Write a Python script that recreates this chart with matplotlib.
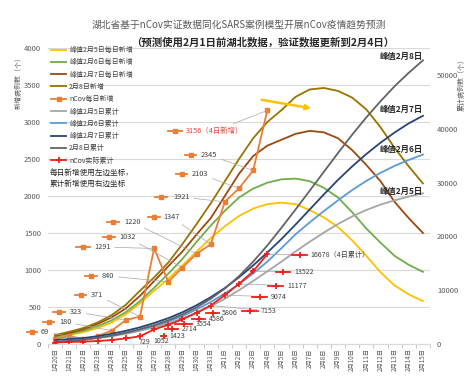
import matplotlib
matplotlib.use("Agg")
import matplotlib.pyplot as plt
from matplotlib.lines import Line2D

plt.rcParams['font.family'] = ['Noto Sans CJK SC', 'DejaVu Sans']

# x categories
dates = ["1月20日", "1月21日", "1月22日", "1月23日", "1月24日", "1月25日", "1月26日",
         "1月27日", "1月28日", "1月29日", "1月30日", "1月31日", "2月1日", "2月2日",
         "2月3日", "2月4日", "2月5日", "2月6日", "2月7日", "2月8日", "2月9日",
         "2月10日", "2月11日", "2月12日", "2月13日", "2月14日", "2月15日"]

# actual Hubei data (1/20 - 2/4)
daily_actual = [72, 105, 69, 105, 180, 323, 371, 1291, 840, 1032, 1220, 1347, 1921, 2103, 2345, 3156]
cum_actual = [270, 375, 444, 549, 729, 1052, 1423, 2714, 3554, 4586, 5806, 7153, 9074, 11177, 13522, 16678]

# model daily new (left axis)
daily_peak5 = [90, 120, 160, 215, 290, 400, 550, 720, 880, 1060, 1250, 1430, 1590, 1730, 1830, 1890,
               1910, 1890, 1810, 1710, 1580, 1400, 1190, 970, 790, 670, 580]
daily_peak6 = [100, 135, 180, 240, 320, 430, 580, 760, 950, 1150, 1380, 1600, 1800, 1980, 2100, 2180,
               2225, 2235, 2200, 2110, 1980, 1780, 1560, 1370, 1190, 1070, 975]
daily_peak7 = [110, 150, 200, 270, 360, 480, 650, 850, 1050, 1250, 1480, 1700, 2000, 2300, 2540, 2680,
               2760, 2840, 2880, 2860, 2780, 2620, 2420, 2200, 1920, 1700, 1500]
daily_peak8 = [120, 165, 216, 290, 390, 530, 720, 900, 1100, 1350, 1620, 1900, 2200, 2500, 2780, 3000,
               3160, 3340, 3440, 3460, 3420, 3330, 3170, 2930, 2650, 2400, 2170]

# model cumulative (right axis)
cum_peak5 = [350, 550, 800, 1100, 1450, 1900, 2450, 3100, 3850, 4750, 5800, 7000, 8400, 10000, 11700,
             13500, 15300, 17200, 19000, 20700, 22300, 23700, 24900, 25900, 26700, 27400, 28000]
cum_peak6 = [350, 550, 800, 1150, 1550, 2050, 2650, 3350, 4200, 5200, 6400, 7800, 9400, 11100, 13100,
             15300, 17800, 20400, 22600, 24700, 26700, 28600, 30300, 31800, 33100, 34200, 35200]
cum_peak7 = [750, 900, 1100, 1450, 1900, 2450, 3100, 3900, 4800, 5900, 7200, 8700, 10400, 12400, 14600,
             17000, 19500, 22200, 25000, 27800, 30500, 33000, 35300, 37400, 39300, 41000, 42400]
cum_peak8 = [350, 550, 800, 1150, 1550, 2100, 2750, 3500, 4400, 5500, 6800, 8400, 10300, 12600, 15300,
             18300, 21600, 25000, 28500, 32000, 35500, 38900, 42100, 45100, 47900, 50400, 52700]

W, H = 476, 386


def fx(x):
    return x / W


def fy(y):
    return 1 - y / H


fig = plt.figure(figsize=(W / 100, H / 100), dpi=100)
ax = fig.add_axes([fx(48), fy(344), fx(430) - fx(48), fy(48) - fy(344)])
ax2 = ax.twinx()

x = list(range(len(dates)))
xa = list(range(len(daily_actual)))

c_y, c_g, c_b, c_o = "#FFC000", "#70AD47", "#9E480E", "#997300"
c_daily = "#ED7D31"
c_gr, c_lb, c_nv, c_dg = "#A5A5A5", "#5B9BD5", "#264478", "#636363"
c_red = "#F0201A"
lw = 1.3

l1, = ax.plot(x, daily_peak5, color=c_y, lw=lw, label="峰值2月5日每日新增")
l2, = ax.plot(x, daily_peak6, color=c_g, lw=lw, label="峰值2月6日每日新增")
l3, = ax.plot(x, daily_peak7, color=c_b, lw=lw, label="峰值2月7日每日新增")
l4, = ax.plot(x, daily_peak8, color=c_o, lw=lw, label="2月8日新增")
l5, = ax.plot(xa, daily_actual, color=c_daily, lw=lw, marker="s", ms=2.6, label="nCov每日新增")

l6, = ax2.plot(x, cum_peak5, color=c_gr, lw=lw, label="峰值2月5日累计")
l7, = ax2.plot(x, cum_peak6, color=c_lb, lw=lw, label="峰值2月6日累计")
l8, = ax2.plot(x, cum_peak7, color=c_nv, lw=lw, label="峰值2月7日累计")
l9, = ax2.plot(x, cum_peak8, color=c_dg, lw=lw, label="2月8日累计")
l10, = ax2.plot(xa, cum_actual, color=c_red, lw=lw, marker="+", ms=4.5, mew=1.3, label="nCov实际累计")

ax.set_xlim(-0.5, len(dates) - 0.5)
ax.set_ylim(0, 4000)
ax.set_yticks(range(0, 4001, 500))
ax2.set_ylim(0, 55000)
ax2.set_yticks(range(0, 50001, 10000))
ax.set_xticks(x)
ax.set_xticklabels(dates, rotation=90, fontsize=4.5, color="#595959")
ax.set_xticks([i - 0.5 for i in range(len(dates) + 1)], minor=True)
ax.tick_params(axis="x", which="major", length=0, pad=3)
ax.tick_params(axis="x", which="minor", length=3, color="#BFBFBF")
ax.tick_params(axis="y", length=0, labelsize=5.5, labelcolor="#595959", pad=5)
ax2.tick_params(axis="y", length=0, labelsize=5.5, labelcolor="#595959", pad=5)
ax.grid(axis="y", color="#D9D9D9", lw=0.8)
ax.set_axisbelow(True)
for a in (ax, ax2):
    for s in ("left", "right", "top"):
        a.spines[s].set_visible(False)
    a.spines["bottom"].set_color("#D9D9D9")

# titles
fig.text(fx(239), fy(25), "湖北省基于nCov实证数据同化SARS案例模型开展nCov疫情趋势预测",
         ha="center", va="center", fontsize=7, color="#595959")
fig.text(fx(263), fy(42), "（预测使用2月1日前湖北数据，验证数据更新到2月4日）",
         ha="center", va="center", fontsize=7.5, fontweight="bold", color="#262626")

fig.text(fx(19), fy(53), "新增病例数（个）", rotation=90, ha="center", va="top",
         fontsize=5, color="#595959")
fig.text(fx(462), fy(55), "累计病例数（个）", rotation=90, ha="center", va="top",
         fontsize=5, color="#595959")

ax.legend(handles=[l1, l2, l3, l4, l5, l6, l7, l8, l9, l10], loc="upper left",
          bbox_to_anchor=(fx(51), fy(46)), bbox_transform=fig.transFigure,
          frameon=False, fontsize=5, handlelength=2.2, handletextpad=0.4,
          labelspacing=0.62, borderpad=0, borderaxespad=0, labelcolor="#404040")

fig.text(fx(50), fy(179), "每日新增使用左边坐标，\n累计新增使用右边坐标", ha="left", va="center",
         fontsize=5.5, color="#262626", linespacing=1.4)

# peak labels on the right
for txt, yy in [("峰值2月8日", 56), ("峰值2月7日", 109), ("峰值2月6日", 149), ("峰值2月5日", 191)]:
    fig.text(fx(423), fy(yy), txt, ha="right", va="center", fontsize=6,
             fontweight="bold", color="#262626")

# trend arrow
ax.annotate("", xy=(18.1, 3185), xytext=(14.6, 3300),
            arrowprops=dict(arrowstyle="-|>", color=c_y, lw=1.8, mutation_scale=7,
                            shrinkA=0, shrinkB=0))

# data callouts: (index, key x0, key x1, y, text x)
daily_labels = [(2, 27, 37, 332, 41), (4, 43, 54, 322, 59), (5, 53, 65, 312, 70),
                (6, 75, 86, 295, 91), (8, 85, 97, 276, 102), (7, 76, 90, 247, 94),
                (9, 103, 115, 237, 119), (10, 107, 119, 222, 124), (11, 148, 160, 217, 163),
                (12, 155, 167, 197, 173), (13, 176, 187, 174, 192), (14, 185, 196, 155, 201),
                (15, 168, 182, 131, 186)]
cum_labels = [(4, None, None, 342, 139), (5, None, None, 341, 153), (6, 161, 166, 336, 169),
              (7, 165, 178, 329, 182), (8, 175, 192, 324, 196), (9, 192, 205, 319, 209),
              (10, 206, 219, 313, 222), (11, 242, 258, 311, 261), (12, 252, 267, 297, 271),
              (13, 268, 283, 286, 287), (14, 276, 290, 272, 294), (15, 292, 307, 255, 310)]

lead = dict(arrowstyle="-", color="#A6A6A6", lw=0.5, shrinkA=1, shrinkB=1)

for i, k0, k1, yy, tx in daily_labels:
    txt = str(daily_actual[i])
    col = "#404040"
    if i == len(daily_actual) - 1:
        txt += "（4日新增）"
        col = "#E8453C"
    ax.annotate(txt, xy=(i, daily_actual[i]), xytext=(fx(tx), fy(yy)),
                textcoords="figure fraction", ha="left", va="center",
                fontsize=5.3, color=col, arrowprops=lead, annotation_clip=False)
    fig.add_artist(Line2D([fx(k0), fx(k1)], [fy(yy), fy(yy)], transform=fig.transFigure,
                          color=c_daily, lw=1.3))
    fig.add_artist(Line2D([fx((k0 + k1) / 2)], [fy(yy)], transform=fig.transFigure,
                          color=c_daily, marker="s", ms=2.6))

for i, k0, k1, yy, tx in cum_labels:
    txt = str(cum_actual[i])
    if i == len(cum_actual) - 1:
        txt += "（4日累计）"
    arr = lead if i >= 11 else None
    ax2.annotate(txt, xy=(i, cum_actual[i]), xytext=(fx(tx), fy(yy)),
                 textcoords="figure fraction", ha="left", va="center",
                 fontsize=5.1, color="#404040", arrowprops=arr, annotation_clip=False)
    if k0 is not None:
        fig.add_artist(Line2D([fx(k0), fx(k1)], [fy(yy), fy(yy)], transform=fig.transFigure,
                              color=c_red, lw=1.3))
        fig.add_artist(Line2D([fx((k0 + k1) / 2)], [fy(yy)], transform=fig.transFigure,
                              color=c_red, marker="+", ms=4.5, mew=1.3))

fig.savefig("out.png", dpi=100)
